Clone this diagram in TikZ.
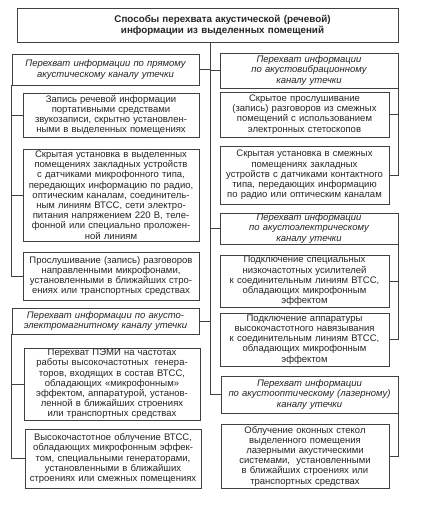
\documentclass[tikz,border=0pt]{standalone}
\usepackage{fontspec}
\setmainfont{Liberation Sans}
\definecolor{ink}{HTML}{262626}
\definecolor{rule}{HTML}{404040}
\begin{document}
\begin{tikzpicture}[x=1pt,y=-1pt,
  box/.style={draw=rule,line width=0.85pt,inner sep=0pt,align=center,text=ink,
    font=\fontsize{9.5}{10.2}\selectfont},
  catbox/.style={box,font=\fontsize{9.5}{10.2}\selectfont\itshape},
  titlebox/.style={box,font=\fontsize{9.8}{11}\selectfont\bfseries},
  link/.style={draw=rule,line width=0.85pt}]
\useasboundingbox[fill=white] (0,0) rectangle (424,506);

\node[titlebox,minimum width=381,minimum height=34,text width=375] (T) at (207.5,25)
 {\hspace*{30pt}Способы перехвата акустической (речевой)\\\hspace*{30pt}информации из выделенных помещений};

% left column
\node[catbox,minimum width=187,minimum height=31,text width=183] (L1) at (105.5,69.5)
 {Перехват информации по прямому\\акустическому каналу утечки};
\node[box,minimum width=176,minimum height=44,text width=174] (L1a) at (111,115)
 {Запись речевой информации\\портативными средствами\\звукозаписи, скрытно установлен-\\ными в выделенных помещениях};
\node[box,minimum width=176,minimum height=92,text width=174] (L1b) at (111,195)
 {Скрытая установка в выделенных\\помещениях закладных устройств\\с датчиками микрофонного типа,\\передающих информацию по радио,\\оптическим каналам, соединитель-\\ным линиям ВТСС, сети электро-\\питания напряжением 220 В, теле-\\фонной или специально проложен-\\ной линиям};
\node[box,minimum width=176,minimum height=48,text width=174] (L1c) at (111,276)
 {Прослушивание (запись) разговоров\\направленными микрофонами,\\установленными в ближайших стро-\\ениях или транспортных средствах};
\node[catbox,minimum width=187,minimum height=26,text width=183] (L2) at (105.5,321)
 {Перехват информации по акусто-\\электромагнитному каналу утечки};
\node[box,minimum width=176,minimum height=72,text width=174] (L2a) at (112,384)
 {Перехват ПЭМИ на частотах\\работы высокочастотных\ \ генера-\\торов, входящих в состав ВТСС,\\обладающих «микрофонным»\\эффектом, аппаратурой, установ-\\ленной в ближайших строениях\\или транспортных средствах};
\node[box,minimum width=176,minimum height=59,text width=174] (L2b) at (113,458.5)
 {Высокочастотное облучение ВТСС,\\обладающих микрофонным эффек-\\том, специальными генераторами,\\установленными в ближайших\\строениях или смежных помещениях};

% right column
\node[catbox,minimum width=178,minimum height=35,text width=174] (R1) at (309,70.5)
 {Перехват информации\\по акустовибрационному\\каналу утечки};
\node[box,minimum width=169,minimum height=45,text width=167] (R1a) at (304.5,114.5)
 {Скрытое прослушивание\\(запись) разговоров из смежных\\помещений с использованием\\электронных стетоскопов};
\node[box,minimum width=169,minimum height=58,text width=167] (R1b) at (304.5,175)
 {Скрытая установка в смежных\\помещениях закладных\\устройств с датчиками контактного\\типа, передающих информацию\\по радио или оптическим каналам};
\node[catbox,minimum width=178,minimum height=31,text width=174] (R2) at (309,228.5)
 {Перехват информации\\по акустоэлектрическому\\каналу утечки};
\node[box,minimum width=169,minimum height=52,text width=167] (R2a) at (304.5,281)
 {Подключение специальных\\низкочастотных усилителей\\к соединительным линиям ВТСС,\\обладающих микрофонным\\эффектом};
\node[box,minimum width=169,minimum height=53,text width=167] (R2b) at (304.5,339.5)
 {Подключение аппаратуры\\высокочастотного навязывания\\к соединительным линиям ВТСС,\\обладающих микрофонным\\эффектом};
\node[catbox,minimum width=177,minimum height=37,text width=173] (R3) at (309.5,394.5)
 {Перехват информации\\по акустооптическому (лазерному)\\каналу утечки};
\node[box,minimum width=168,minimum height=64,text width=166] (R3a) at (305,456)
 {Облучение оконных стекол\\выделенного помещения\\лазерными акустическими\\системами,\ \ установленными\\в ближайших строениях или\\транспортных средствах};

% trunk
\coordinate (ttop) at (210,42);
\coordinate (tbot) at (210,394.5);
\draw[link] (ttop) -- (tbot);
\draw[link] (L1.east) -- (L1.east -| ttop);
\draw[link] (R1.west) -- (R1.west -| ttop);
\draw[link] (R2.west) -- (R2.west -| ttop);
\draw[link] (L2.east) -- (L2.east -| ttop);
\draw[link] (R3.west) -- (tbot);

% left brackets
\draw[link] (L1.south west) |- (L1c.west);
\draw[link] (L1a.west -| L1.south west) -- (L1a.west);
\draw[link] (L1b.west -| L1.south west) -- (L1b.west);
\draw[link] (L2.south west) |- (L2b.west);
\draw[link] (L2a.west -| L2.south west) -- (L2a.west);

% right brackets
\draw[link] (R1.south east) |- (R1b.east);
\draw[link] (R1a.east -| R1.south east) -- (R1a.east);
\draw[link] (R2.south east) |- (R2b.east);
\draw[link] (R2a.east -| R2.south east) -- (R2a.east);
\draw[link] (R3.south east) |- (R3a.east);
\end{tikzpicture}
\end{document}
